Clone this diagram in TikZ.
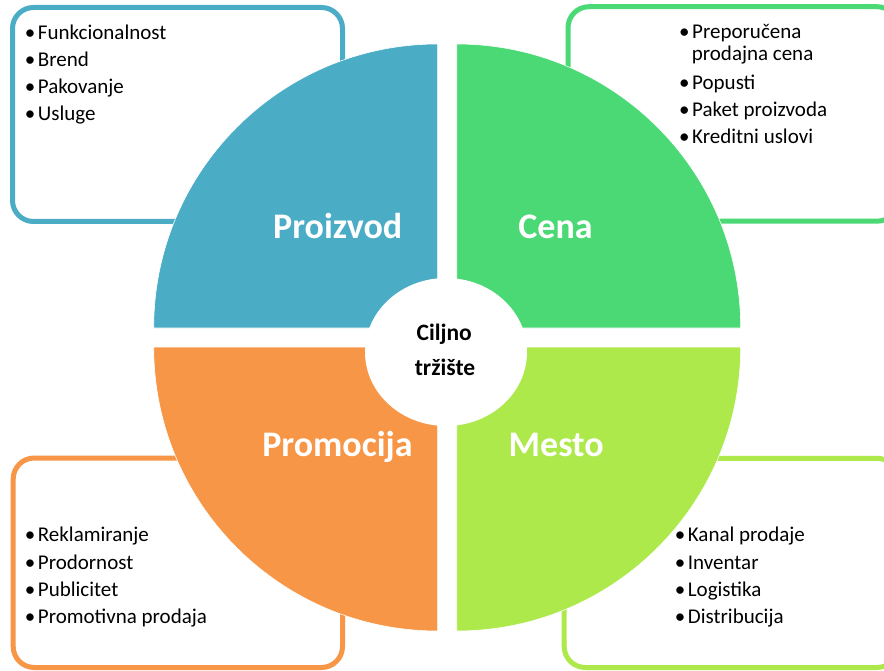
\documentclass[tikz,border=0pt]{standalone}
\usepackage{fontspec}
\setmainfont{Carlito}
\usetikzlibrary{shapes.geometric}
\definecolor{cblue}{HTML}{4BACC6}
\definecolor{cgreen}{HTML}{4AD975}
\definecolor{clime}{HTML}{ADE94B}
\definecolor{corange}{HTML}{F79646}
\newcommand\mkbul[4]{%
  \node[dotmark] (#1d) at (#2,#3) {•};
  \node[itemtext, xshift=7.7pt] (#1) at (#2,#3) {#4};}
\begin{document}
\begin{tikzpicture}[x=1pt,y=-1pt,
  box/.style={line width=5pt, rounded corners=21pt},
  quarter/.style={draw=white, line width=0.6pt},
  biglabel/.style={text=white, font=\fontsize{36}{40}\selectfont\bfseries, anchor=base, inner sep=0pt},
  centertext/.style={text=black, font=\fontsize{23.5}{28}\selectfont\bfseries, anchor=base, inner sep=0pt},
  itemtext/.style={font=\fontsize{21}{25}\selectfont, anchor=base west, inner sep=0pt},
  dotmark/.style={font=\fontsize{21}{25}\selectfont, anchor=base, inner sep=0pt}]
\useasboundingbox (0,0) rectangle (884,671);
\clip (0,0) rectangle (884,671);
\fill[white] (0,0) rectangle (884,671);
% boxes
\draw[box, cblue] (12.5,7.5) rectangle (342.5,221.5);
\draw[box, cgreen] (568,6.7) rectangle (898,221.2);
\draw[box, corange] (13.2,458) rectangle (342.5,667.5);
\draw[box, clime] (564.2,458.3) rectangle (898,667.5);
% quarters
\path[quarter, fill=cblue] (437.7,328) -- (153.7,328) arc[start angle=180, end angle=90, radius=284pt] -- cycle;
\path[quarter, fill=cgreen] (456.7,328) -- (456.7,44) arc[start angle=90, end angle=0, radius=284pt] -- cycle;
\path[quarter, fill=corange] (437.7,347) -- (437.7,631) arc[start angle=270, end angle=180, radius=284pt] -- cycle;
\path[quarter, fill=clime] (456.7,347) -- (740.7,347) arc[start angle=0, end angle=-90, radius=284pt] -- cycle;
% center
\node[ellipse, fill=white, minimum width=162pt, minimum height=148pt, inner sep=0pt] (ctr) at (446,352) {};
\node[centertext] (c1) at (444.2,340.7) {Ciljno};
\node[centertext] (c2) at (445,375) {tržište};
% labels
\node[biglabel] (lp) at (337.7,239) {Proizvod};
\node[biglabel] (lc) at (555.5,238.5) {Cena};
\node[biglabel] (lpr) at (337.5,456.7) {Promocija};
\node[biglabel] (lm) at (556.2,456.7) {Mesto};
% items blue
\mkbul{b1}{30}{39.3}{Funkcionalnost}
\mkbul{b2}{30}{66.3}{Brend}
\mkbul{b3}{30}{93.3}{Pakovanje}
\mkbul{b4}{30}{120.3}{Usluge}
% items green
\mkbul{g1}{684.3}{38.3}{Preporučena}
\node[itemtext] (g1b) at (691.7,61) {prodajna cena};
\mkbul{g2}{684.3}{89.3}{Popusti}
\mkbul{g3}{684.3}{116.3}{Paket proizvoda}
\mkbul{g4}{684.3}{143.3}{Kreditni uslovi}
% items orange
\mkbul{o1}{30}{541.7}{Reklamiranje}
\mkbul{o2}{30}{569}{Prodornost}
\mkbul{o3}{30}{596.3}{Publicitet}
\mkbul{o4}{30}{623.3}{Promotivna prodaja}
% items lime
\mkbul{m1}{680}{541.7}{Kanal prodaje}
\mkbul{m2}{680}{569}{Inventar}
\mkbul{m3}{680}{596.3}{Logistika}
\mkbul{m4}{680}{623.3}{Distribucija}
\end{tikzpicture}
\end{document}
